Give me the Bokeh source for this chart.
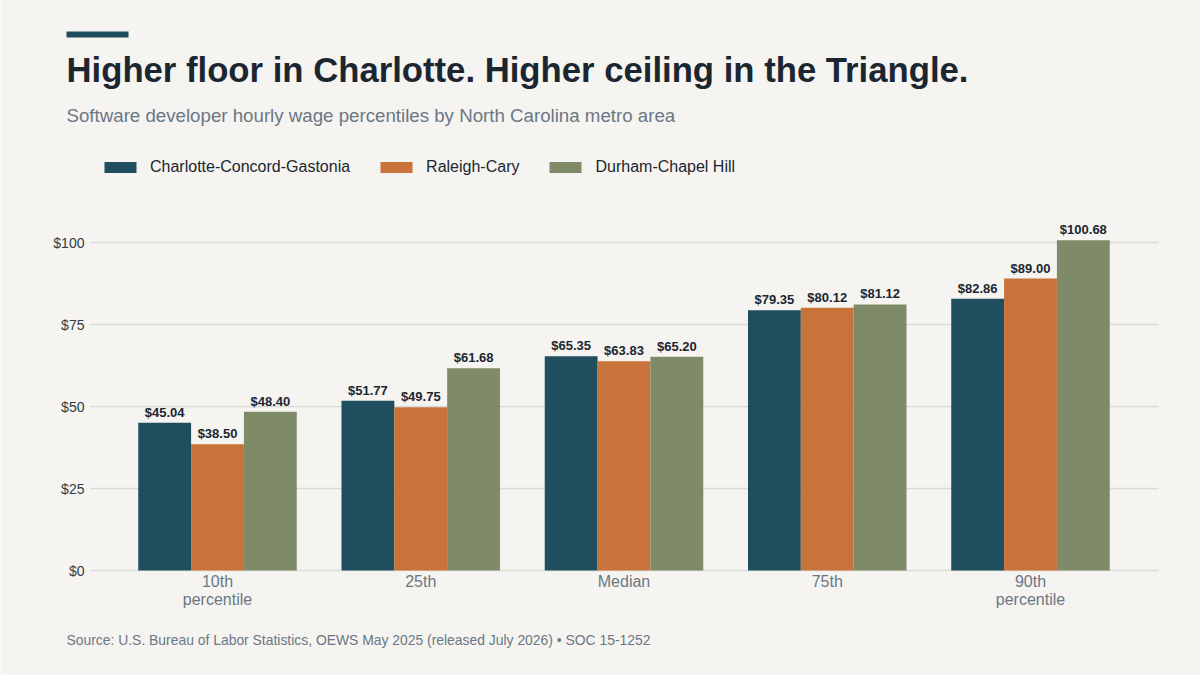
import numpy as np
from bokeh.plotting import figure
from bokeh.models import Range1d, Label, Legend, LegendItem, BoxAnnotation, ColumnDataSource
from bokeh.core.properties import value
from bokeh.embed import file_html
from bokeh.resources import INLINE

# ---- data ----
categories = ["10th\npercentile", "25th", "Median", "75th", "90th\npercentile"]
series_names = ["Charlotte-Concord-Gastonia", "Raleigh-Cary", "Durham-Chapel Hill"]
charlotte = [45.04, 51.77, 65.35, 79.35, 82.86]
raleigh = [38.50, 49.75, 63.83, 80.12, 89.00]
durham = [48.40, 61.68, 65.20, 81.12, 100.68]
y_ticks = [0, 25, 50, 75, 100]

title_text = "Higher floor in Charlotte. Higher ceiling in the Triangle."
subtitle_text = "Software developer hourly wage percentiles by North Carolina metro area"
source_text = "Source: U.S. Bureau of Labor Statistics, OEWS May 2025 (released July 2026) \u2022 SOC 15-1252"

# ---- style / layout ----
colors = ["#1f4e5f", "#c8733a", "#7f8b68"]
BG = "#f5f4f0"
FONT = "Liberation Sans"
DARK = "#1b2631"
GRAY = "#6b7785"
W, H = 1200, 675
bar_w = 0.26
offsets = [-bar_w, 0.0, bar_w]
plot_x0, plot_x1 = -0.625, 4.63          # extent of the plotting area (data units)

p = figure(width=W, height=H,
           x_range=Range1d(-1.0677, 4.8364), y_range=Range1d(-32.01, 173.78),
           output_backend="svg", toolbar_location=None,
           min_border=0, background_fill_color=BG, border_fill_color=BG,
           outline_line_color=None)
p.axis.visible = False
p.grid.visible = False

# horizontal grid lines + y tick labels
p.segment(x0=plot_x0, x1=plot_x1, y0=y_ticks, y1=y_ticks,
          line_color="#dcdad5", line_width=1.3)
p.text(x=plot_x0, y=y_ticks, text=[f"${t}" for t in y_ticks], x_offset=-6,
       text_align="right", text_baseline="middle", text_font=value(FONT),
       text_font_size="14px", text_color="#333b44")

# category labels
p.text(x=list(range(len(categories))), y=0, text=categories, y_offset=2,
       text_align="center", text_baseline="top", text_font=value(FONT),
       text_font_size="16px", text_color=GRAY, text_line_height=1.06)

items = []
for name, vals, col, off in zip(series_names, [charlotte, raleigh, durham], colors, offsets):
    src = ColumnDataSource(dict(x=np.arange(len(vals)) + off, top=vals,
                                label=[f"${v:.2f}" for v in vals]))
    r = p.vbar(x="x", top="top", bottom=0, width=bar_w, fill_color=col,
               line_color=None, source=src)
    p.text(x="x", y="top", text="label", source=src, text_align="center",
           text_baseline="bottom", y_offset=-3, text_font=value(FONT),
           text_font_style="bold", text_font_size="13px", text_color=DARK)
    items.append(LegendItem(label=name, renderers=[r]))

legend = Legend(items=items, location=(100, 499), orientation="horizontal",
                background_fill_alpha=0, border_line_color=None, padding=0, margin=0,
                glyph_width=40, glyph_height=14, label_height=19, label_standoff=10,
                spacing=26, label_text_font=FONT, label_text_font_size="16px",
                label_text_color=DARK)
p.add_layout(legend)

p.add_layout(BoxAnnotation(left=66, right=128, top=644, bottom=638,
                           left_units="screen", right_units="screen",
                           top_units="screen", bottom_units="screen",
                           fill_color="#1f4e5f", fill_alpha=1, line_color=None))

p.add_layout(Label(x=66, y=606, x_units="screen", y_units="screen", text=title_text,
                   text_font=FONT, text_font_size="34.7px", text_font_style="bold",
                   text_color=DARK, text_baseline="alphabetic"))
p.add_layout(Label(x=66, y=560, x_units="screen", y_units="screen", text=subtitle_text,
                   text_font=FONT, text_font_size="18.7px", text_color=GRAY,
                   text_baseline="alphabetic"))
p.add_layout(Label(x=66, y=36, x_units="screen", y_units="screen", text=source_text,
                   text_font=FONT, text_font_size="13.9px", text_color=GRAY,
                   text_baseline="alphabetic"))

open("out.html", "w").write(file_html(p, INLINE))
